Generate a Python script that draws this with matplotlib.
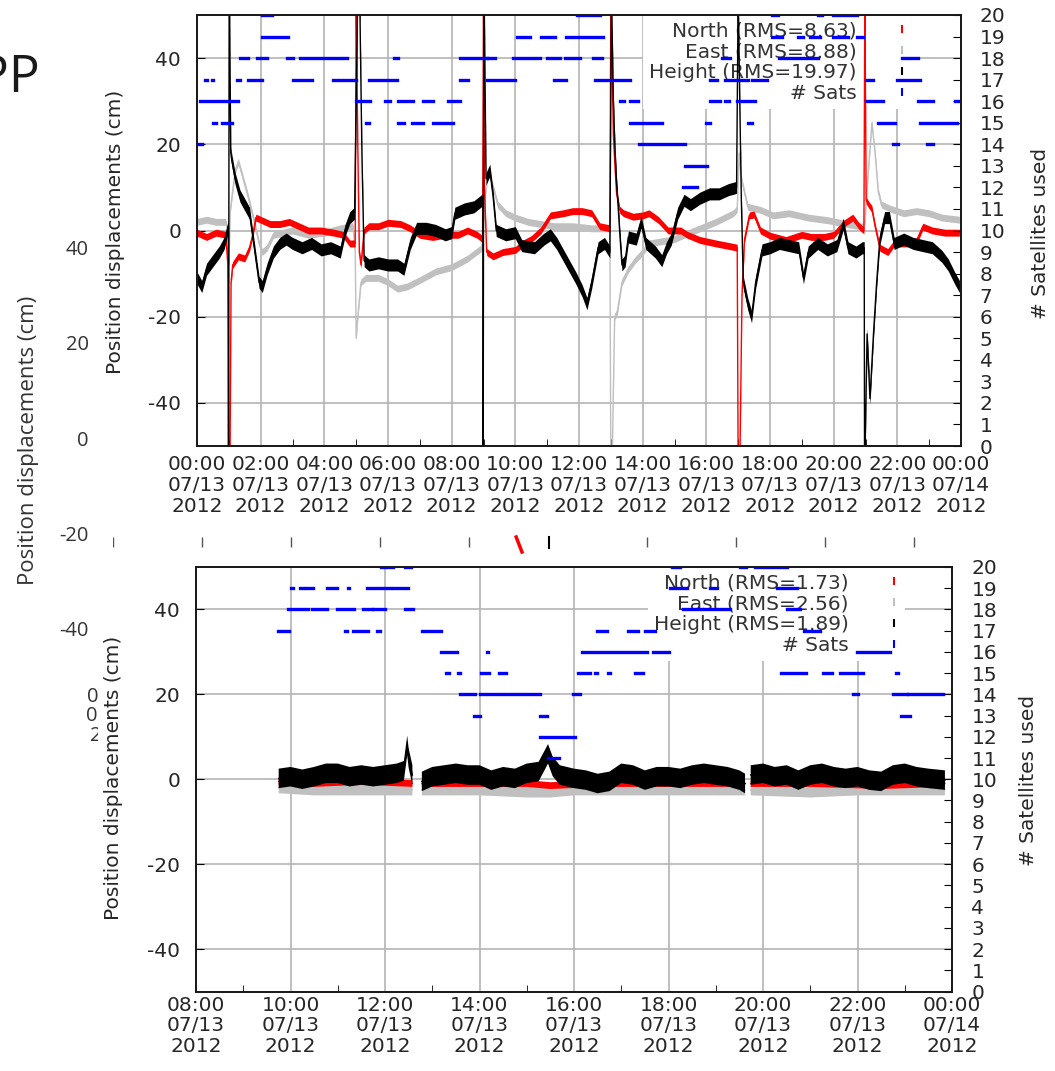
import numpy as np
import pandas as pd
import matplotlib
matplotlib.use('Agg')
import matplotlib.pyplot as plt
import matplotlib.dates as mdates
from matplotlib.lines import Line2D
from matplotlib.patches import Rectangle

plt.rcParams['font.family'] = ['DejaVu Sans']
plt.rcParams['axes.unicode_minus'] = False

# ---------------- data (hours after 2012-07-13 00:00, cm / # satellites) ----------------
nan = np.nan

top_north = np.array([
    [0.0, -0.5], [0.3, -1.5], [0.6, -0.5], [0.9, -1], [0.97, -8], [0.995, -55], [1.04, -50], [1.07, -12],
    [1.12, -8], [1.3, -6], [1.5, -6.5], [1.65, -4], [1.75, -1], [1.85, 3], [2.0, 2.5], [2.3, 1.5], [2.6, 1.5],
    [2.9, 2], [3.2, 1], [3.5, 0], [3.9, 0], [4.3, -0.5], [4.6, -1], [4.8, -3], [4.97, -3], [5.0, 55],
    [5.05, 20], [5.1, -5], [5.15, -8], [5.25, 0], [5.4, 1], [5.7, 1], [6.0, 1.8], [6.4, 1.5], [6.7, 0.5],
    [7.0, -1], [7.4, -1.5], [7.8, -1], [8.2, -1], [8.5, 0], [8.8, -1], [8.97, -2], [9.0, 55], [9.03, 10],
    [9.1, -5], [9.3, -6], [9.6, -5], [10.0, -4.5], [10.25, -3], [10.5, -2], [10.8, 0], [11.1, 3.5], [11.5, 4],
    [11.8, 4.5], [12.1, 4.5], [12.4, 4], [12.65, 1], [12.97, 0.5], [13.0, 55], [13.08, 22], [13.13, 14.8],
    [13.18, 8.6], [13.28, 4.8], [13.4, 4], [13.7, 3.2], [14.0, 3.5], [14.2, 4], [14.5, 2.4], [14.8, 0],
    [15.2, 0], [15.4, -1], [15.8, -2.2], [16.3, -3], [16.85, -3.8], [16.97, -4], [17.0, -55], [17.06, -50],
    [17.12, -15], [17.2, -2], [17.35, 3.5], [17.5, 3.7], [17.7, 0], [18.0, -1.2], [18.5, -2.2], [19.0, -1],
    [19.3, -1.5], [19.7, -1.5], [20.0, -1], [20.3, 1.5], [20.6, 3], [20.8, 1], [20.95, 0], [20.98, 55],
    [21.02, 7], [21.1, 6], [21.2, 5], [21.3, 1], [21.45, -4], [21.7, -5], [21.9, -3], [22.3, -3],
    [22.6, -2.5], [22.8, 0.9], [23.1, 0], [23.5, -0.5], [23.95, -0.5]])

top_east = np.array([
    [0.0, 2], [0.3, 2.5], [0.6, 2], [0.9, 2], [0.97, 0], [1.0, -8], [1.05, 5], [1.2, 14], [1.3, 16],
    [1.45, 12], [1.6, 8], [1.8, 2], [1.95, -3], [2.05, -5], [2.2, -4], [2.4, -1], [2.7, -0.5], [3.0, 0],
    [3.5, -1], [4.0, -0.5], [4.5, 0.5], [4.9, 1], [4.97, -5], [5.0, -25], [5.05, -20], [5.15, -12],
    [5.3, -11], [5.7, -11], [6.0, -12], [6.3, -13.5], [6.6, -13], [7.0, -11.5], [7.5, -9.5], [8.0, -8.5],
    [8.5, -6.5], [8.95, -4], [9.05, 8], [9.15, 14], [9.3, 10], [9.45, 6], [9.7, 4], [10.0, 3], [10.4, 2],
    [10.8, 1.5], [11.2, 1], [11.8, 1], [12.4, 0.5], [12.97, 0.5], [13.0, -55], [13.05, -50], [13.12, -20],
    [13.2, -19], [13.35, -12], [13.55, -9], [13.75, -7], [14.0, -5], [14.2, -3], [14.6, -2.5], [15.0, -2],
    [15.3, -1], [15.8, 0.5], [16.3, 2], [16.85, 4], [16.97, 5], [17.03, 18], [17.1, 12], [17.3, 5.5],
    [17.7, 4.8], [18.1, 3.5], [18.6, 4], [19.2, 3], [19.8, 2.4], [20.4, 1.5], [20.9, 0.9], [20.98, 2],
    [21.1, 15], [21.2, 25], [21.3, 18], [21.4, 9], [21.5, 6], [21.8, 5], [22.2, 4], [22.6, 4.5], [23.0, 4],
    [23.4, 3], [23.95, 2.5]])

top_height = np.array([
    [0.0, -11], [0.15, -13], [0.3, -9], [0.5, -7], [0.7, -5], [0.85, -3], [0.95, 0], [0.985, 1], [0.99, -55],
    [1.01, 55], [1.02, 55], [1.06, 18], [1.1, 16], [1.2, 12], [1.35, 8], [1.5, 6], [1.65, 4], [1.8, -4],
    [1.95, -12], [2.05, -13], [2.2, -9], [2.4, -5], [2.6, -3], [2.8, -2], [3.0, -3], [3.3, -4], [3.6, -3],
    [3.9, -4.5], [4.2, -4], [4.5, -5], [4.65, 0], [4.8, 3], [4.95, 4], [5.05, 55], [5.12, 50], [5.18, 18],
    [5.25, -7], [5.4, -8], [5.7, -7.5], [6.0, -8], [6.3, -8], [6.5, -9], [6.7, -3], [6.9, 0.5], [7.2, 0.5],
    [7.5, 0], [7.8, -1], [8.0, -0.5], [8.1, 4], [8.4, 5], [8.7, 5.5], [8.95, 7], [8.985, 7], [8.99, -55],
    [9.01, 55], [9.02, 55], [9.08, 12], [9.2, 14], [9.3, 8], [9.4, 0], [9.7, -1], [10.0, -0.5], [10.2, -3.5],
    [10.6, -4], [10.9, -2], [11.1, -1], [11.3, -3], [11.6, -7], [11.9, -11], [12.1, -14], [12.25, -17],
    [12.4, -12], [12.6, -4], [12.8, -3], [12.97, -5], [13.02, 55], [13.08, 30], [13.13, 18.7], [13.18, 11],
    [13.23, 5.5], [13.28, -0.6], [13.35, -8], [13.45, -7], [13.55, -1.5], [13.8, -2], [13.95, 2], [14.1, -3],
    [14.4, -5], [14.6, -7], [14.75, -4], [14.9, -2], [15.1, 4], [15.3, 7], [15.5, 6], [15.8, 7.5], [16.1, 8.5],
    [16.4, 8.5], [16.7, 9.5], [16.95, 10], [17.0, 55], [17.05, 30], [17.1, 7], [17.16, -12], [17.3, -17],
    [17.42, -20], [17.55, -12], [17.75, -4.5], [18.0, -4], [18.3, -3], [18.6, -3.5], [18.9, -4], [19.05, -11],
    [19.2, -5], [19.5, -3], [19.8, -4.5], [20.1, -3.5], [20.3, 1.5], [20.45, -4], [20.7, -5], [20.9, -4],
    [20.96, -4], [20.97, -55], [20.99, -50], [21.05, -24], [21.14, -39], [21.25, -24], [21.35, -12],
    [21.45, -2], [21.6, 3], [21.75, 3], [21.9, -3], [22.2, -2], [22.5, -3], [22.8, -3.5], [23.1, -4],
    [23.4, -6], [23.6, -8], [23.8, -11], [23.95, -13]])

# satellites: (count, start hour, end hour)
top_sats = [
    (20, 2.04, 2.36), (20, 11.94, 12.66), (20, 18.06, 18.25), (20, 19.5, 19.64), (20, 19.98, 20.74),
    (19, 2.04, 2.86), (19, 4.6, 4.6), (19, 8.7, 8.7), (19, 10.05, 10.45), (19, 10.8, 11.25), (19, 11.6, 12.75),
    (19, 18.05, 18.37), (19, 18.88, 19.04), (19, 19.26, 19.57), (19, 19.98, 20.45), (19, 20.73, 20.92),
    (18, 1.35, 1.6), (18, 1.9, 2.2), (18, 2.83, 3.02), (18, 3.12, 3.12), (18, 3.24, 4.5), (18, 4.6, 4.7),
    (18, 6.2, 6.3), (18, 8.26, 9.1), (18, 9.15, 9.35), (18, 9.6, 9.6), (18, 9.93, 10.78), (18, 11.0, 11.4),
    (18, 11.56, 12.03), (18, 12.45, 12.72), (18, 16.5, 16.75), (18, 18.27, 19.52), (18, 21.08, 21.08),
    (18, 22.15, 22.65),
    (17, 0.25, 0.32), (17, 0.47, 0.5), (17, 1.25, 1.35), (17, 1.6, 2.05), (17, 3.0, 3.6), (17, 4.27, 4.4),
    (17, 4.5, 5.0), (17, 5.4, 6.28), (17, 7.2, 7.2), (17, 8.26, 8.5), (17, 9.1, 10.0), (17, 11.2, 11.6),
    (17, 11.87, 11.87), (17, 12.5, 13.6), (17, 16.1, 16.35), (17, 16.6, 17.3), (17, 17.45, 17.9),
    (17, 21.0, 21.24), (17, 22.0, 22.7),
    (16, 0.1, 1.3), (16, 2.0, 2.0), (16, 5.0, 5.45), (16, 5.9, 6.05), (16, 6.3, 6.8), (16, 7.1, 7.4),
    (16, 7.9, 8.26), (16, 13.3, 13.4), (16, 13.6, 13.85), (16, 14.17, 14.17), (16, 16.12, 16.43),
    (16, 16.6, 16.7), (16, 16.97, 17.53), (16, 17.94, 17.94), (16, 21.0, 21.55), (16, 22.15, 22.15),
    (16, 22.65, 23.12), (16, 23.8, 23.9),
    (15, 0.1, 0.1), (15, 0.5, 0.6), (15, 0.8, 0.9), (15, 1.0, 1.1), (15, 5.3, 5.4), (15, 6.3, 6.5),
    (15, 6.75, 7.1), (15, 7.4, 8.05), (15, 8.2, 8.2), (15, 13.6, 14.6), (15, 16.0, 16.1), (15, 17.3, 17.45),
    (15, 21.4, 21.93), (15, 22.7, 23.88),
    (14, 0.05, 0.15), (14, 7.9, 7.9), (14, 13.9, 15.33), (14, 16.0, 16.0), (14, 21.87, 22.03), (14, 22.93, 23.12),
    (13, 14.33, 14.33), (13, 15.33, 16.02),
    (12, 15.27, 15.7),
    (7, 13.3, 13.3)]

bot_north = np.array([
    [9.75, -0.5], [10.5, -1], [11.5, -0.5], [12.58, -1], [12.68, nan], [12.78, -1], [14.0, -1], [15.0, -1],
    [15.5, -1.5], [16.5, -1], [18.0, -1], [19.62, -1], [19.68, nan], [19.74, -1], [21.0, -1], [22.5, -1.5],
    [23.85, -1]])

bot_east = np.array([
    [9.75, -2], [10.5, -2.5], [11.5, -2.5], [12.58, -2.5], [12.68, nan], [12.78, -2.5], [14.0, -2.5],
    [15.0, -3], [15.5, -3], [16.0, -2.5], [17.0, -2.5], [18.0, -2.5], [19.0, -2.5], [19.62, -2.5],
    [19.68, nan], [19.74, -2.5], [21.0, -3], [22.0, -2.5], [23.0, -2.5], [23.85, -2.5]])

bot_height = np.array([
    [9.75, 0.2], [10.0, 0.6], [10.25, 0], [10.5, 0.6], [10.75, 1.4], [11.0, 1.4], [11.25, 0.6], [11.5, 1],
    [11.75, 0.6], [12.0, 1], [12.25, 1.4], [12.4, 2], [12.47, 8], [12.5, 5], [12.58, 1], [12.68, nan],
    [12.78, -0.5], [13.0, 0.6], [13.25, 1], [13.5, 1.4], [13.75, 1], [14.0, 1], [14.25, -0.2], [14.5, 0.6],
    [14.75, 0.2], [15.0, 1.4], [15.25, 1.8], [15.38, 4.5], [15.45, 6], [15.55, 3], [15.7, 1], [16.0, 0.2],
    [16.25, -0.2], [16.5, -1], [16.75, -0.5], [17.0, 1.4], [17.25, 1], [17.5, -0.2], [17.75, 0.6],
    [18.0, 0.6], [18.25, 0.2], [18.5, 1], [18.75, 1.4], [19.0, 1], [19.25, 0.6], [19.5, -0.2], [19.62, -1],
    [19.68, nan], [19.74, 1], [20.0, 1.4], [20.25, 0.6], [20.5, 1], [20.75, -0.2], [21.0, 1], [21.25, 1.4],
    [21.5, 0.6], [21.75, 0.2], [22.0, 0.6], [22.25, -0.2], [22.5, -0.5], [22.75, 1], [23.0, 1.4],
    [23.25, 0.6], [23.5, 0.2], [23.85, -0.2]])

bot_sats = [
    (20, 11.91, 12.16), (20, 12.42, 12.56), (20, 18.07, 18.25), (20, 19.51, 19.65), (20, 19.83, 20.5),
    (19, 10.02, 10.06), (19, 10.2, 10.26), (19, 10.33, 10.47), (19, 10.77, 10.98), (19, 11.21, 11.24),
    (19, 11.61, 12.1), (19, 12.16, 12.49), (19, 12.54, 12.56), (19, 18.03, 18.39), (19, 18.88, 19.02),
    (19, 19.24, 19.24), (19, 20.3, 20.71),
    (18, 9.95, 10.38), (18, 10.45, 10.78), (18, 10.99, 11.35), (18, 11.54, 11.72), (18, 11.75, 12.0),
    (18, 12.42, 12.6), (18, 18.03, 18.03), (18, 18.31, 19.3), (18, 19.45, 19.45), (18, 20.5, 20.78),
    (18, 21.07, 21.07),
    (17, 9.74, 9.97), (17, 11.15, 11.19), (17, 11.33, 11.65), (17, 11.84, 11.89), (17, 12.48, 12.48),
    (17, 12.78, 13.18), (17, 16.48, 16.69), (17, 17.15, 17.36), (17, 17.5, 17.71), (17, 20.86, 21.21),
    (17, 22.19, 22.19),
    (16, 13.19, 13.52), (16, 14.15, 14.19), (16, 16.16, 17.54), (16, 17.68, 18.0), (16, 21.98, 22.69),
    (15, 13.3, 13.36), (15, 13.54, 13.59), (15, 14.03, 14.2), (15, 14.31, 14.31), (15, 14.42, 14.56),
    (15, 16.09, 16.34), (15, 16.45, 16.48), (15, 16.73, 16.76), (15, 17.29, 17.47), (15, 17.96, 17.96),
    (15, 20.38, 20.91), (15, 21.26, 21.47), (15, 21.62, 22.11), (15, 22.82, 22.85),
    (14, 13.59, 13.9), (14, 14.01, 14.12), (14, 14.19, 14.48), (14, 14.54, 15.28), (14, 15.98, 16.13),
    (14, 21.91, 22.02), (14, 22.76, 23.04), (14, 23.07, 23.81),
    (13, 13.89, 14.01), (13, 14.35, 14.35), (13, 15.27, 15.42), (13, 22.93, 23.11),
    (12, 15.29, 16.02),
    (11, 15.44, 15.68), (11, 19.04, 19.04),
    (9, 17.54, 17.54), (9, 21.03, 21.03),
    (8, 13.4, 13.4), (8, 14.52, 14.52), (8, 16.02, 16.02), (8, 16.51, 16.51), (8, 17.04, 17.04),
    (8, 18.53, 18.53), (8, 20.92, 20.92), (8, 23.53, 23.53),
    (7, 13.33, 13.33), (7, 13.52, 13.52), (7, 14.02, 14.02),
    (6, 15.51, 15.51)]

top_labels = ['North (RMS=8.63)', 'East (RMS=8.88)', 'Height (RMS=19.97)', '# Sats']
bot_labels = ['North (RMS=1.73)', 'East (RMS=2.56)', 'Height (RMS=1.89)', '# Sats']

cm_ticks = [-40, -20, 0, 20, 40]
ghost_cm_ticks = [-40, -20, 0, 20, 40]
ghost_tick_hours = [0, 2, 4, 6, 8, 12, 14, 16, 18]

# ---------------- figure ----------------
W, H = 1055, 1071
fig = plt.figure(figsize=(W / 100, H / 100), dpi=100)
fig.patch.set_facecolor('white')


def px_box(x0, y0, x1, y1):
    return [x0 / W, 1 - y1 / H, (x1 - x0) / W, (y1 - y0) / H]


base = mdates.date2num(pd.Timestamp('2012-07-13'))


def tnum(h):
    return base + np.asarray(h, dtype=float) / 24.0


TXT = '#262626'
FS = 14.5

# ghost of another slide behind the two screenshots
fig.text(40 / W, 1 - 92 / H, 'PP', ha='right', va='baseline', fontsize=37, family='Open Sans', color='#1a1a1a')
fig.text(29 / W, 1 - 440 / H, 'Position displacements (cm)', rotation=90, ha='center', va='center',
         fontsize=16, family='Open Sans', color='#333333')
g = fig.add_axes(px_box(100, 200, 500, 676), zorder=0)
g.patch.set_visible(False)
for s in g.spines.values():
    s.set_visible(False)
g.set_ylim(-50, 50)
g.set_yticks(ghost_cm_ticks)
g.set_xlim(-13 / 47.0, 387 / 47.0)
g.set_xticks([0])
g.set_xticklabels(['00:00\n07/13\n2012'], linespacing=0.95)
g.tick_params(length=0, labelsize=14.5, pad=8, labelcolor='#333333')
for lab in g.get_xticklabels() + g.get_yticklabels():
    lab.set_family('Open Sans')

strip = fig.add_axes(px_box(113, 530, 1000, 555), zorder=0)
strip.set_axis_off()
strip.set_xlim(0, 887 / 44.5)
strip.set_ylim(0, 1)
strip.vlines(ghost_tick_hours, 0.32, 0.72, color='#555555', lw=1)
strip.plot([9.06, 9.19], [0.72, 0.12], color='red', lw=2.5)
strip.plot([9.8, 9.8], [0.28, 0.72], color='black', lw=1.5)

# white backgrounds of the two pasted chart screenshots
fig.add_artist(Rectangle((98 / W, 1 - 527 / H), 1, 527 / H, transform=fig.transFigure,
                         facecolor='white', edgecolor='none', zorder=0.5))
fig.add_artist(Rectangle((98 / W, 0), 1, 1 - 556 / H, transform=fig.transFigure,
                         facecolor='white', edgecolor='none', zorder=0.5))


def panel(rect, h0, h1, north, east, height, sats, labels, widths, leg_x, xpad, ypad, rpad):
    ax = fig.add_axes(rect, zorder=1)
    ax2 = ax.twinx()
    ax2.set_zorder(1.1)
    ax2.patch.set_visible(False)

    series = [(east, '#c0c0c0', widths[1], 2.0), (north, '#ff0000', widths[0], 2.1),
              (height, '#000000', widths[2], 2.2)]
    for arr, col, w, z in series:
        x = tnum(arr[:, 0])
        v = arr[:, 1]
        ax.fill_between(x, v - w, v + w, color=col, lw=0, zorder=z)
        ax.plot(x, v, color=col, lw=1.0, zorder=z)

    lv = np.array([s[0] for s in sats], dtype=float)
    t0 = tnum([s[1] for s in sats])
    t1 = tnum([s[2] for s in sats])
    ax2.hlines(lv, t0, t1, colors='#0000ff', lw=2.4, capstyle='projecting')

    ax.set_xlim(tnum(h0), tnum(h1))
    ax.set_ylim(-50, 50)
    ax.set_yticks(cm_ticks)
    ax2.set_ylim(0, 20)
    ax2.set_yticks(range(0, 21))

    ax.xaxis.set_major_locator(mdates.HourLocator(byhour=range(0, 24, 2)))
    ax.xaxis.set_minor_locator(mdates.HourLocator())
    ax.xaxis.set_major_formatter(mdates.DateFormatter('%H:%M\n%m/%d\n%Y'))

    ax.set_axisbelow(True)
    ax.grid(True, which='major', color='#b4b4b4', lw=1.2)
    ax.tick_params(which='both', direction='in', labelsize=FS, labelcolor=TXT, top=False, right=False)
    ax.tick_params(axis='x', which='major', length=0, pad=xpad)
    ax.tick_params(axis='x', which='minor', length=5)
    ax.tick_params(axis='y', length=6, pad=ypad)
    ax2.tick_params(axis='y', direction='in', length=6, pad=rpad, labelsize=FS, labelcolor=TXT)
    for a in (ax, ax2):
        for s in a.spines.values():
            s.set_linewidth(1.3)
            s.set_color('#1a1a1a')

    handles = [Line2D([], [], color=c, marker='|', ls='none', markersize=6, mew=1.5)
               for c in ('#ff0000', '#c0c0c0', '#000000', '#0000ff')]
    leg = ax.legend(handles, labels, loc='upper right', bbox_to_anchor=(leg_x, 1.0), markerfirst=False,
                    frameon=True, facecolor='white', edgecolor='none', framealpha=1, fancybox=False,
                    borderpad=0.3, borderaxespad=0, handlelength=0.5, handletextpad=2.0, labelspacing=0.1,
                    fontsize=FS)
    leg.set_zorder(1.5)
    for t in leg.get_texts():
        t.set_color('#333333')
    return ax


top = panel(px_box(197, 15, 961, 446), 0, 24, top_north, top_east, top_height, top_sats, top_labels,
            (0.8, 0.8, 1.4), 0.937, 6.5, 11.5, 13.5)
bot = panel(px_box(196, 567, 952, 991.5), 8, 24, bot_north, bot_east, bot_height, bot_sats, bot_labels,
            (0.8, 1.3, 2.3), 0.938, 3, 11.5, 14)

for (x, y), txt in [((116, 232), 'Position displacements (cm)'), ((114, 778), 'Position displacements (cm)')]:
    fig.text(x / W, 1 - y / H, txt, rotation=90, ha='center', va='center', fontsize=FS, color=TXT)
for (x, y) in [(1040, 233), (1028, 780)]:
    fig.text(x / W, 1 - y / H, '# Satellites used', rotation=90, ha='center', va='center', fontsize=FS, color=TXT)

fig.canvas.draw()
for a in (top, bot):
    for lab in a.get_xticklabels():
        lab.set_linespacing(1.12)

fig.savefig('out.png', dpi=100, facecolor='white')
